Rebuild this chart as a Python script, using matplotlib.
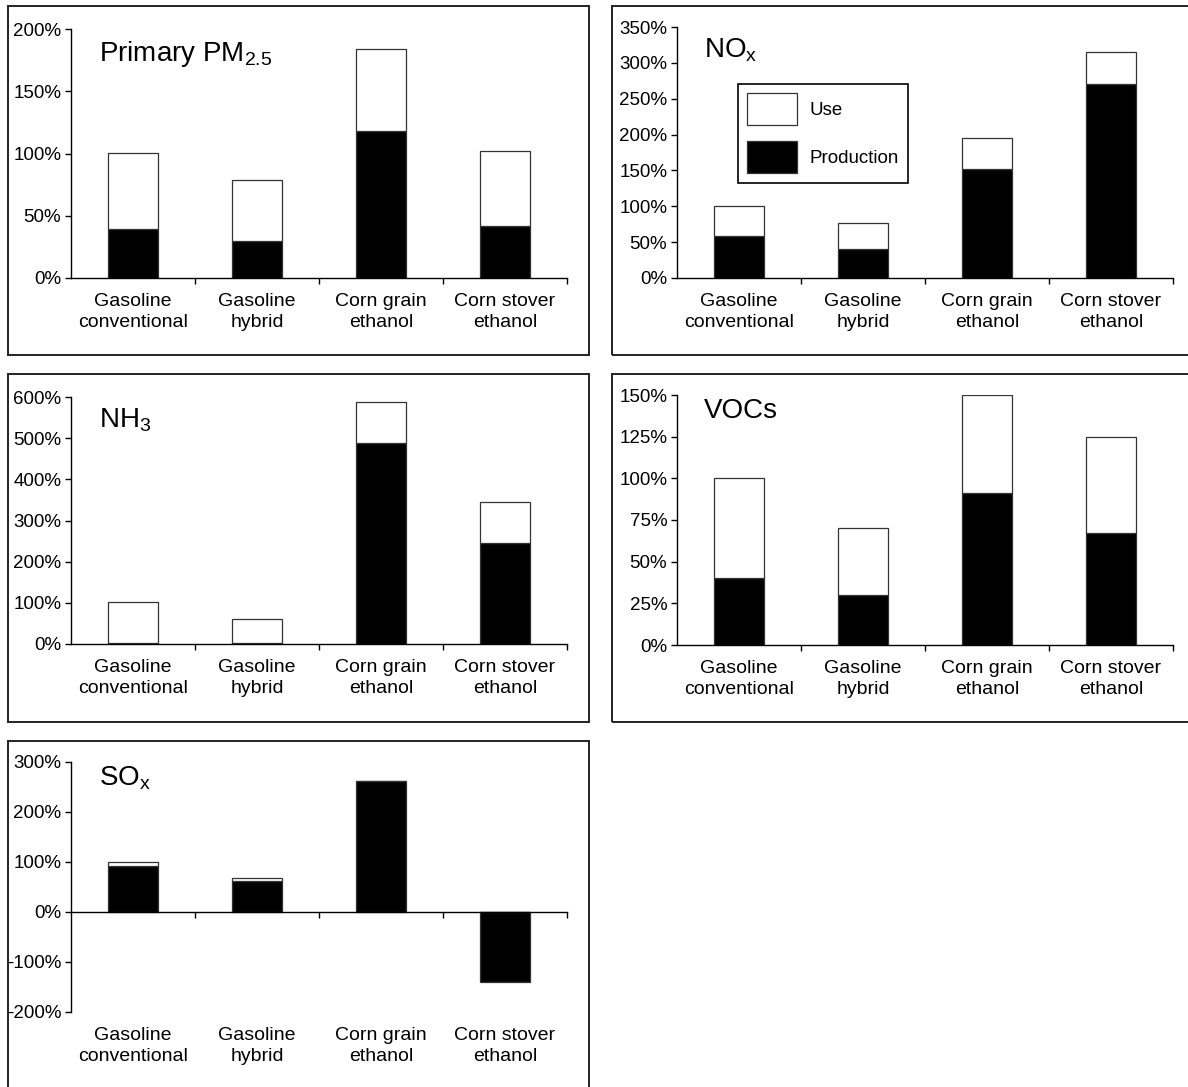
import matplotlib
matplotlib.use("Agg")
import matplotlib.pyplot as plt
from matplotlib.patches import Rectangle, Patch

plt.rcParams['font.family'] = ['Liberation Sans', 'DejaVu Sans']
plt.rcParams['mathtext.fontset'] = 'custom'
plt.rcParams['mathtext.rm'] = 'Liberation Sans'
plt.rcParams['mathtext.it'] = 'Liberation Sans:italic'
plt.rcParams['mathtext.bf'] = 'Liberation Sans:bold'

# ---------------- data ----------------
categories = ["Gasoline\nconventional", "Gasoline\nhybrid",
              "Corn grain\nethanol", "Corn stover\nethanol"]

pm_production = [39, 30, 118, 42]
pm_use = [61, 49, 66, 60]
pm_ticks = [0, 50, 100, 150, 200]

nox_production = [58, 40, 152, 270]
nox_use = [42, 36, 43, 45]
nox_ticks = [0, 50, 100, 150, 200, 250, 300, 350]

nh3_production = [2, 2, 488, 245]
nh3_use = [101, 58, 100, 100]
nh3_ticks = [0, 100, 200, 300, 400, 500, 600]

voc_production = [40, 30, 91, 67]
voc_use = [60, 40, 59, 58]
voc_ticks = [0, 25, 50, 75, 100, 125, 150]

sox_production = [92, 63, 262, -140]
sox_use = [8, 5, 0, 0]
sox_ticks = [-200, -100, 0, 100, 200, 300]

titles = [r"Primary PM$_{\mathrm{2.5}}$", r"NO$_{\mathrm{x}}$", r"NH$_{\mathrm{3}}$",
          "VOCs", r"SO$_{\mathrm{x}}$"]
legend_labels = ["Use", "Production"]

# ---------------- layout (pixels) ----------------
W, H = 1188, 1087
fig = plt.figure(figsize=(W / 100, H / 100), dpi=100)


def ax_rect(l, r, t, b):
    return [l / W, 1 - b / H, (r - l) / W, (b - t) / H]


panels = [
    dict(rect=ax_rect(71, 567, 29, 278), prod=pm_production, use=pm_use, ticks=pm_ticks,
         title=titles[0], tpos=(99, 61), frame=(8, 589, 6, 355)),
    dict(rect=ax_rect(677, 1173, 27, 278), prod=nox_production, use=nox_use, ticks=nox_ticks,
         title=titles[1], tpos=(704, 57), frame=(612, 1200, 6, 355)),
    dict(rect=ax_rect(71, 567, 397, 644), prod=nh3_production, use=nh3_use, ticks=nh3_ticks,
         title=titles[2], tpos=(99, 428), frame=(8, 589, 374, 722)),
    dict(rect=ax_rect(677, 1173, 395, 645), prod=voc_production, use=voc_use, ticks=voc_ticks,
         title=titles[3], tpos=(704, 418), frame=(612, 1200, 374, 722)),
    dict(rect=ax_rect(71, 567, 762, 1012), prod=sox_production, use=sox_use, ticks=sox_ticks,
         title=titles[4], tpos=(99, 786), frame=(8, 589, 741, 1100)),
]

edge = '#333333'
axes = []
for p in panels:
    # outer frame
    l, r, t, b = p['frame']
    fig.patches.append(Rectangle((l / W, 1 - b / H), (r - l) / W, (b - t) / H,
                                 transform=fig.transFigure, fill=False,
                                 edgecolor='#222222', linewidth=1.4, zorder=0))
    ax = fig.add_axes(p['rect'])
    axes.append(ax)
    x = list(range(len(categories)))
    prod = p['prod']
    use = p['use']
    ax.bar(x, prod, width=0.4, color='black', edgecolor=edge, linewidth=0.9, zorder=2)
    bottoms = [v if v > 0 else 0 for v in prod]
    ax.bar(x, use, width=0.4, bottom=bottoms, color='white', edgecolor=edge,
           linewidth=0.9, zorder=2)
    ax.set_xlim(-0.5, len(categories) - 0.5)
    ax.set_ylim(p['ticks'][0], p['ticks'][-1])
    ax.set_yticks(p['ticks'])
    ax.set_yticklabels([f"{v}%" for v in p['ticks']])
    ax.set_xticks([i + 0.5 for i in range(len(categories))])
    ax.set_xticklabels([])
    for s in ['top', 'right']:
        ax.spines[s].set_visible(False)
    ax.spines['bottom'].set_position(('data', 0))
    ax.spines['bottom'].set_zorder(3)
    for s in ['left', 'bottom']:
        ax.spines[s].set_linewidth(1.0)
        ax.spines[s].set_color('black')
    ax.tick_params(axis='y', direction='out', length=4, width=1.0, pad=3, labelsize=13.5)
    ax.tick_params(axis='x', direction='out', length=4, width=1.0)
    ax.patch.set_visible(False)
    for i, c in enumerate(categories):
        ax.annotate(c, xy=(i, 0), xycoords=('data', 'axes fraction'),
                    xytext=(0, -15), textcoords='offset pixels',
                    ha='center', va='top', fontsize=14, linespacing=1.3)
    tx, ty = p['tpos']
    fig.text(tx / W, 1 - ty / H, p['title'], fontsize=20, ha='left', va='baseline')

fs = 13.5
fspx = fs * 100 / 72
hh = (32 / fspx - 0.245) / 0.65
handles = [Patch(facecolor='white', edgecolor=edge, linewidth=0.9),
           Patch(facecolor='black', edgecolor=edge, linewidth=0.9)]
leg = fig.legend(handles, legend_labels, loc='upper left',
                 bbox_to_anchor=(738 / W, 1 - 84 / H), bbox_transform=fig.transFigure,
                 borderaxespad=0, fontsize=fs, frameon=True, fancybox=False,
                 edgecolor='black', framealpha=1,
                 handlelength=50 / fspx, handleheight=hh,
                 labelspacing=16 / fspx, handletextpad=12 / fspx, borderpad=0.5)
leg.get_frame().set_linewidth(1.2)

fig.savefig("out.png", dpi=100)
